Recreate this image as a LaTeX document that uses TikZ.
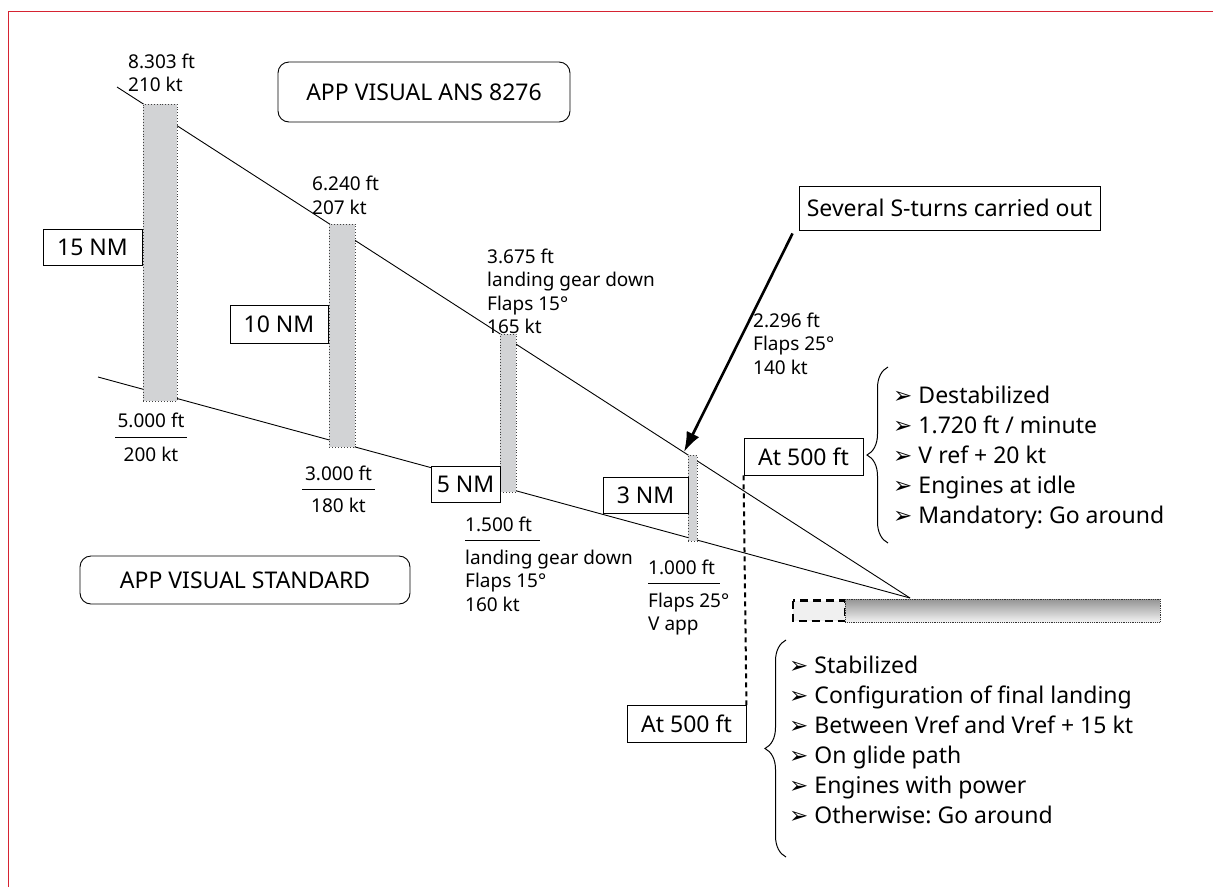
\documentclass[tikz,border=0pt]{standalone}
\usepackage{fontspec}
\setmainfont{Noto Sans}
\newfontfamily\symbfont{DejaVu Sans}
\usetikzlibrary{arrows.meta,decorations.pathreplacing,calc}
\definecolor{framered}{RGB}{214,35,50}
\definecolor{bargray}{RGB}{210,211,213}
\frenchspacing
\begin{document}
\begin{tikzpicture}[x=1pt,y=-1pt,
 lbl/.style={font=\fontsize{19}{23.5}\selectfont, inner sep=0pt, anchor=base west},
 lblc/.style={lbl, anchor=base},
 boxed/.style={draw, line width=0.9pt, fill=white, font=\fontsize{23}{28}\selectfont, inner sep=0pt},
 rbox/.style={boxed, rounded corners=11pt},
 barshape/.style={draw=black!75, dotted, line width=0.9pt, fill=bargray, inner sep=0pt, anchor=north west},
 glide/.style={line width=0.9pt},
 item/.style={font=\fontsize{23}{28}\selectfont, inner sep=0pt, anchor=base west},
 bracestyle/.style={decorate, decoration={brace, amplitude=#1}, line width=1pt},
 rulestyle/.style={line width=0.9pt},
]
\useasboundingbox (0,0) rectangle (1213,887);
% frame
\draw[framered, line width=1.6pt] (8.5,887) -- (8.5,11.5) -- (1213,11.5);

% glide paths
\coordinate (ansStart) at (117,87);
\coordinate (stdStart) at (98,377);
\coordinate (td) at (910,598);
\draw[glide] (ansStart) -- (td);
\draw[glide] (stdStart) -- (td);

% bars
\node[barshape, minimum width=34pt, minimum height=297pt] (bar1) at (143,103.7) {};
\node[barshape, minimum width=26pt, minimum height=223.5pt] (bar2) at (329,223.5) {};
\node[barshape, minimum width=16pt, minimum height=158pt] (bar3) at (500,334) {};
\node[barshape, minimum width=9pt, minimum height=86pt] (bar4) at (688,455) {};

% NM boxes
\node[boxed, minimum width=99pt, minimum height=36pt] (nm15) at (92.5,247) {15 NM};
\node[boxed, minimum width=98pt, minimum height=38pt] (nm10) at (279,324) {10 NM};
\node[boxed, minimum width=69pt, minimum height=36pt] (nm5) at (465.5,484) {5 NM};
\node[boxed, minimum width=85pt, minimum height=36pt] (nm3) at (645.5,495) {3 NM};

% title boxes
\node[rbox, minimum width=292pt, minimum height=60pt] (ans) at (424,92) {APP VISUAL ANS 8276};
\node[rbox, minimum width=330pt, minimum height=48pt] (std) at (245,580) {APP VISUAL STANDARD};

% upper labels
\node[lbl] (a1) at (128,68) {8.303 ft};
\node[lbl] (a2) at (128,91.5) {210 kt};
\node[lbl] (b1) at (312,190) {6.240 ft};
\node[lbl] (b2) at (312,214) {207 kt};
\node[lbl] (c1) at (487,263) {3.675 ft};
\node[lbl] (c2) at (487,286.5) {landing gear down};
\node[lbl] (c3) at (487,310) {Flaps 15°};
\node[lbl] (c4) at (487,333.5) {165 kt};
\node[lbl] (d1) at (753,327) {2.296 ft};
\node[lbl] (d2) at (753,350.5) {Flaps 25°};
\node[lbl] (d3) at (753,374) {140 kt};

% lower labels
\node[lblc] (e1) at (151,427) {5.000 ft};
\draw[rulestyle] (115,437) -- (187,437);
\node[lblc] (e2) at (151,461) {200 kt};
\node[lblc] (f1) at (338.5,480) {3.000 ft};
\draw[rulestyle] (302,489) -- (375,489);
\node[lblc] (f2) at (338.5,512) {180 kt};
\node[lbl] (g1) at (465,531) {1.500 ft};
\draw[rulestyle] (465,540) -- (540,540);
\node[lbl] (g2) at (465,564) {landing gear down};
\node[lbl] (g3) at (465,587.5) {Flaps 15°};
\node[lbl] (g4) at (465,611) {160 kt};
\node[lbl] (h1) at (648,574) {1.000 ft};
\draw[rulestyle] (648,583) -- (720,583);
\node[lbl] (h2) at (648,607) {Flaps 25°};
\node[lbl] (h3) at (648,630.5) {V app};

% S-turns
\node[boxed, minimum width=301pt, minimum height=44pt] (sturns) at (949.5,208) {Several S-turns carried out};
\draw[line width=2.6pt, -{Latex[length=20pt,width=14pt]}] ($(sturns.south west)+(-6,3)$) -- ($(bar4.north west)+(-4,-3)$);

% At 500 ft boxes
\node[boxed, minimum width=119pt, minimum height=37pt] (at1) at (803.5,456.5) {At 500 ft};
\node[boxed, minimum width=119pt, minimum height=37pt] (at2) at (686.5,724) {At 500 ft};
\draw[line width=2pt, dash pattern=on 5pt off 4pt] (at1.south west) -- (at2.north east);

% runway
\draw[line width=2.5pt, dash pattern=on 8pt off 5pt, fill=black!6] (793,600.5) rectangle (845,621);
\shade[top color=black!42, bottom color=black!5] (845,599) rectangle (1160,622);
\draw[densely dotted, line width=0.8pt, black!80] (845,599) rectangle (1160,622);

% upper list
\draw[bracestyle=21pt] (888,543) -- (888,367);
\node[item] (u1) at (893,403.5) {{\symbfont ➢}\hspace{6pt}Destabilized};
\node[item] (u2) at (893,433.5) {{\symbfont ➢}\hspace{6pt}1.720 ft / minute};
\node[item] (u3) at (893,463.5) {{\symbfont ➢}\hspace{6pt}V ref + 20 kt};
\node[item] (u4) at (893,493.5) {{\symbfont ➢}\hspace{6pt}Engines at idle};
\node[item] (u5) at (893,523.5) {{\symbfont ➢}\hspace{6pt}Mandatory: Go around};

% lower list
\draw[bracestyle=21pt] (786,857) -- (786,640);
\node[item] (l1) at (789,673.5) {{\symbfont ➢}\hspace{6pt}Stabilized};
\node[item] (l2) at (789,703.5) {{\symbfont ➢}\hspace{6pt}Configuration of final landing};
\node[item] (l3) at (789,733.5) {{\symbfont ➢}\hspace{6pt}Between Vref and Vref + 15 kt};
\node[item] (l4) at (789,763.5) {{\symbfont ➢}\hspace{6pt}On glide path};
\node[item] (l5) at (789,793.5) {{\symbfont ➢}\hspace{6pt}Engines with power};
\node[item] (l6) at (789,823.5) {{\symbfont ➢}\hspace{6pt}Otherwise: Go around};
\end{tikzpicture}
\end{document}
